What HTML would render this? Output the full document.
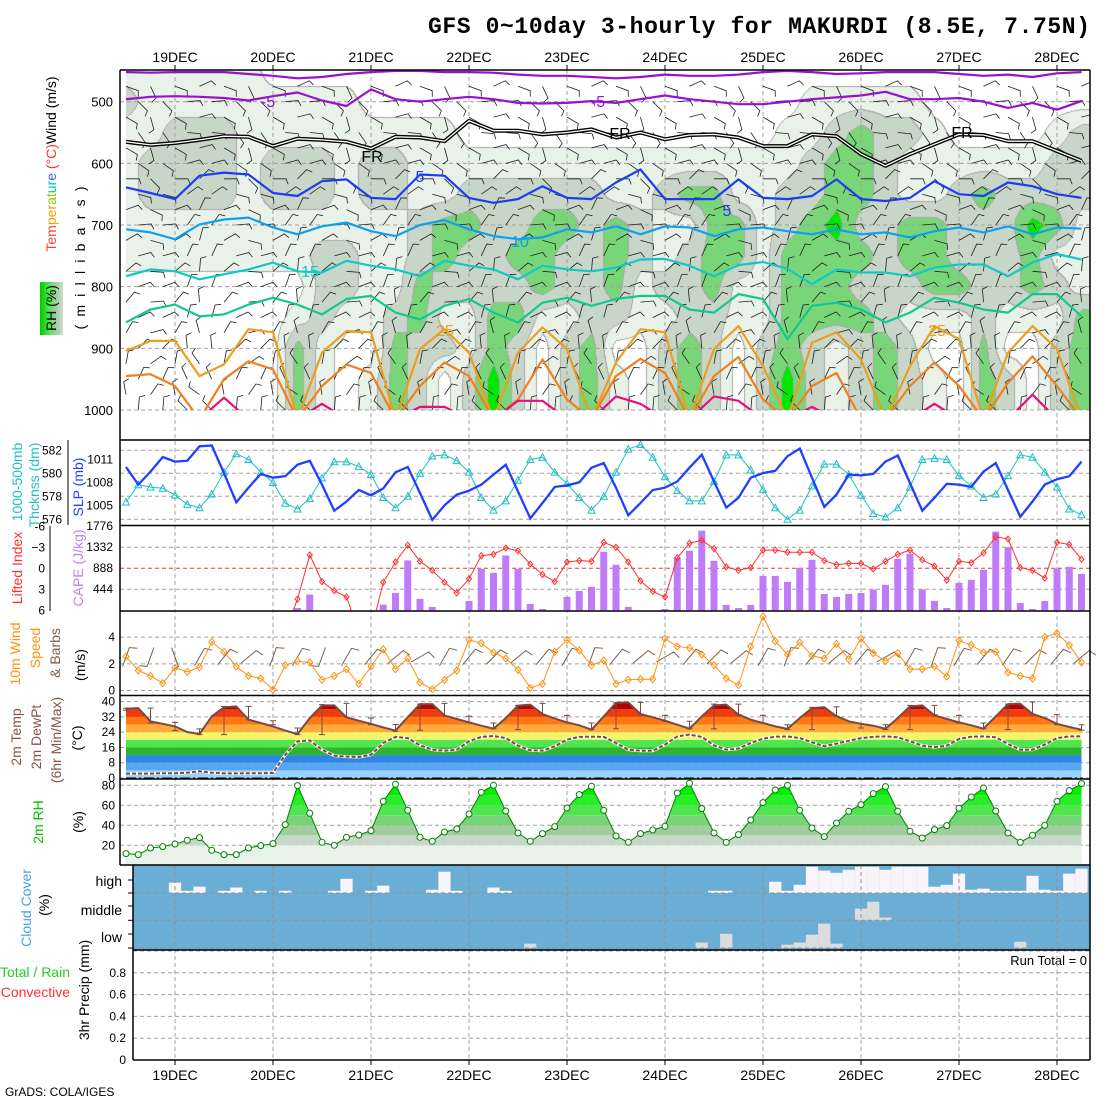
<!DOCTYPE html>
<html><head><meta charset="utf-8">
<style>
body{margin:0;background:#fff;width:1100px;height:1100px;overflow:hidden;position:relative;font-family:"Liberation Sans",sans-serif}
#rhc{position:absolute;left:126px;top:70px}
#chart{position:absolute;left:0;top:0}
</style></head>
<body>
<canvas id="rhc" width="964" height="340"></canvas>
<svg id="chart" width="1100" height="1100" xmlns="http://www.w3.org/2000/svg" font-family="Liberation Sans, sans-serif">
<defs>
<clipPath id="upClip"><rect x="120" y="70" width="970" height="368"/></clipPath>
<clipPath id="isoClip"><rect x="120" y="70" width="970" height="340"/></clipPath>
<clipPath id="liClip"><rect x="120" y="526" width="970" height="85"/></clipPath>
<clipPath id="cloudClip"><rect x="133" y="865" width="957" height="85"/></clipPath>
<linearGradient id="rhKey" x1="0" x2="1" y1="0" y2="0"><stop offset="0" stop-color="#00c800"/><stop offset="0.4" stop-color="#50e650"/><stop offset="0.7" stop-color="#a0cca0"/><stop offset="1" stop-color="#d0dcd0"/></linearGradient>
</defs>
<text x="428" y="33" font-family="Liberation Mono, monospace" font-size="23" font-weight="bold" textLength="662">GFS 0~10day 3-hourly for MAKURDI (8.5E, 7.75N)</text>

<g font-size="14">
<text transform="translate(51,164) rotate(-90)" text-anchor="middle" dy="0.35em"><tspan fill="#ff4028">Tem</tspan><tspan fill="#f0a000">per</tspan><tspan fill="#90c800">at</tspan><tspan fill="#00c0c0">ur</tspan><tspan fill="#4060ff">e</tspan><tspan fill="#ff3030"> (°C)</tspan><tspan fill="#000">Wind (m/s)</tspan></text>
<rect x="40" y="282" width="23" height="53" fill="url(#rhKey)"/>
<text transform="translate(51,308) rotate(-90)" text-anchor="middle" dy="0.35em">RH (%)</text>
<text transform="translate(80,258) rotate(-90)" text-anchor="middle" dy="0.35em" textLength="143">(millibars)</text>
</g>
<g font-size="14">
<text transform="translate(17,482) rotate(-90)" text-anchor="middle" dy="0.35em" fill="#20c0c0">1000-500mb</text>
<text transform="translate(34,485) rotate(-90)" text-anchor="middle" dy="0.35em" fill="#20c0c0">Thcknss (dm)</text>
<text transform="translate(78,487) rotate(-90)" text-anchor="middle" dy="0.35em" fill="#2040ff">SLP (mb)</text>
<text transform="translate(17,568) rotate(-90)" text-anchor="middle" dy="0.35em" fill="#ff3030">Lifted Index</text>
<text transform="translate(78,568) rotate(-90)" text-anchor="middle" dy="0.35em" fill="#c080f8">CAPE (J/kg)</text>
<text transform="translate(15,654) rotate(-90)" text-anchor="middle" dy="0.35em" fill="#ff9010">10m Wind</text>
<text transform="translate(35,648) rotate(-90)" text-anchor="middle" dy="0.35em" fill="#ff9010">Speed</text>
<text transform="translate(55,653) rotate(-90)" text-anchor="middle" dy="0.35em" fill="#7a6048">&amp; Barbs</text>
<text transform="translate(80,665) rotate(-90)" text-anchor="middle" dy="0.35em">(m/s)</text>
<text transform="translate(16,737) rotate(-90)" text-anchor="middle" dy="0.35em" fill="#8b5048">2m Temp</text>
<text transform="translate(36,737) rotate(-90)" text-anchor="middle" dy="0.35em" fill="#8b5048">2m DewPt</text>
<text transform="translate(56,740) rotate(-90)" text-anchor="middle" dy="0.35em" fill="#8b5048">(6hr Min/Max)</text>
<text transform="translate(77,738) rotate(-90)" text-anchor="middle" dy="0.35em">(°C)</text>
<text transform="translate(38,822) rotate(-90)" text-anchor="middle" dy="0.35em" fill="#00c000">2m RH</text>
<text transform="translate(78,822) rotate(-90)" text-anchor="middle" dy="0.35em">(%)</text>
<text transform="translate(26,908) rotate(-90)" text-anchor="middle" dy="0.35em" fill="#4aa0e0">Cloud Cover</text>
<text transform="translate(44,905) rotate(-90)" text-anchor="middle" dy="0.35em">(%)</text>
<text x="122" y="886" text-anchor="end">high</text>
<text x="122" y="915" text-anchor="end">middle</text>
<text x="122" y="942" text-anchor="end">low</text>
<text x="70" y="977" text-anchor="end" fill="#20d020">Total / Rain</text>
<text x="70" y="997" text-anchor="end" fill="#ff3030">Convective</text>
<text transform="translate(84,990) rotate(-90)" text-anchor="middle" dy="0.35em">3hr Precip (mm)</text>
<text x="1087" y="965" text-anchor="end" font-size="13">Run Total = 0</text>
<text x="5" y="1096" font-size="12">GrADS: COLA/IGES</text>
</g>
</svg>
<script>
// ---------- data ----------
const dayLabels=["19DEC","20DEC","21DEC","22DEC","23DEC","24DEC","25DEC","26DEC","27DEC","28DEC"];
const thick=[577.5,579.0,578.8,578.7,578.1,577.3,577.0,578.2,580.1,581.7,
581.2,580.1,579.2,577.4,576.9,577.8,579.6,581.0,581.0,580.6,
579.9,577.9,577.0,578.0,580.0,581.5,581.6,581.1,580.1,577.9,
576.8,577.6,579.4,581.2,581.4,580.1,579.1,577.9,576.8,578.0,
580.1,582.1,582.5,581.4,579.7,578.5,577.6,577.6,579.3,581.6,
581.6,580.3,578.6,577.0,576.0,576.8,578.9,580.8,580.8,579.9,
578.1,576.5,576.2,577.0,578.8,581.2,581.3,581.2,579.8,578.9,
577.9,578.2,579.8,581.6,581.4,580.1,578.8,576.9,576.4];
const slp=[1010.0,1007.7,1009.4,1011.3,1010.7,1010.8,1012.7,1012.8,1009.2,1005.4,
1007.3,1009.1,1008.6,1008.8,1010.3,1010.8,1007.7,1004.3,1005.5,1007.0,
1006.3,1007.2,1009.3,1010.0,1006.6,1003.1,1005.0,1006.4,1006.9,1007.7,
1009.0,1010.3,1006.8,1003.3,1005.3,1007.4,1007.6,1008.0,1009.9,1010.5,
1007.3,1003.7,1005.3,1007.0,1007.3,1008.1,1009.9,1011.6,1008.1,1004.7,
1006.0,1008.6,1009.2,1009.5,1011.4,1012.4,1008.6,1004.8,1006.4,1009.0,
1008.9,1009.1,1010.7,1011.5,1007.9,1004.3,1006.0,1007.8,1007.7,1007.4,
1009.4,1010.5,1007.0,1003.5,1005.5,1007.7,1008.4,1008.8,1010.7];
const liftedIndex=[9,9,9,9,9,9,9,9,9,9,
9,9,9,9,4.4,-1.9,1.9,3.2,4.1,9,
9,2.0,-0.9,-3.3,-1.0,0.3,2.0,3.5,1.5,-1.8,
-2.0,-2.9,-2.5,-0.6,0.9,1.9,-0.9,-1.1,-1.0,-3.7,
-3.0,-0.9,1.8,3.3,4.1,-1.5,-3.6,-4.0,-2.8,-0.2,
0.3,-0.1,-2.6,-2.6,-2.3,-2.3,-2.3,-1.1,-0.5,-0.7,
-0.7,0.1,-1.0,-2.0,-2.6,-1.2,-0.3,1.7,-1.0,-0.8,
-2.2,-4.5,-4.2,-0.1,0.3,1.4,-3.7,-3.4,-1.3];
const cape=[0,0,0,0,0,0,0,0,0,0,
0,0,0,0,49,331,0,0,0,0,
0,120,366,1050,240,70,0,0,197,874,
790,1156,874,134,28,0,282,409,494,1233,
959,70,0,0,28,1107,1255,1678,1043,113,
49,113,726,726,599,895,1064,345,282,345,
366,437,536,1086,1191,437,197,49,578,642,
853,1657,1332,155,28,197,881,917,768];
const windSpeed=[2.55,1.5,1.1,0.55,1.7,1.4,1.75,3.65,2.9,1.8,
1.1,0.9,0.05,1.9,2.2,2.1,0.8,1.1,1.6,0.5,
1.8,3.1,1.6,2.4,0.6,0.1,0.8,1.5,3.8,3.55,
2.85,2.4,1.55,0.2,0.5,2.9,3.8,3.0,1.9,2.25,
0.5,0.8,0.85,0.85,3.9,3.3,3.2,2.7,1.9,0.9,
0.4,3.3,5.55,3.7,2.7,3.6,2.6,2.4,3.5,2.35,
3.9,2.8,2.2,2.8,1.6,1.6,1.8,1.05,3.75,3.4,
2.85,2.9,1.35,1.1,0.9,4.0,4.3,3.4,2.1];
const sfcWindDir=[20,200,160,30,40,50,20,30,200,30,40,50,60,30,40,45,50,40,30,20,40,50,60,40,45,50,30,20,40,50,40,60,30,20,30,40,35,45,40,50];
const temp2m=[36.3,36.6,29.7,28.4,27.0,24.1,23.0,32.3,37.0,37.5,
30.5,28.8,27.0,24.8,23.0,31.4,38.0,38.0,31.8,30.0,
28.3,26.5,24.8,31.9,38.7,38.7,32.8,30.9,29.1,27.4,
25.8,31.4,37.9,38.4,33.5,31.1,29.1,27.6,25.3,32.3,
39.3,39.6,33.5,31.8,30.0,27.9,25.8,32.3,38.0,38.4,
33.2,30.5,28.8,27.0,25.7,31.4,36.6,37.0,32.3,29.7,
28.4,27.4,25.8,31.4,37.5,38.0,32.8,30.9,29.1,27.6,
25.8,32.3,38.7,38.9,33.5,31.4,28.4,26.7,25.3];
const dewpt2m=[2.3,2.3,2.3,2.5,2.5,2.8,3.5,2.8,2.4,2.4,
2.5,2.5,2.6,12.2,19.2,19.7,14.8,11.7,11.2,11.0,
12.2,18.3,21.5,20.9,17.1,14.8,14.3,14.8,19.2,21.5,
22.0,20.9,16.9,14.5,14.3,16.6,20.1,21.5,21.6,21.5,
18.3,14.8,14.3,14.3,17.5,21.8,22.7,21.5,17.1,14.8,
15.4,18.3,20.6,21.6,21.8,20.9,18.7,16.6,18.0,19.5,
20.9,21.5,21.8,21.3,19.2,16.9,16.2,16.9,20.4,21.6,
21.8,21.3,17.8,14.8,14.8,17.5,20.9,21.8,21.8];
const tMaxBar=[36.5,36.6,29.1,25.7,37.5,37.5,30.0,26.2,38.4,39.1,31.4,28.0,38.7,39.1,32.3,28.8,38.0,39.1,32.8,28.8,39.3,39.6,32.8,29.7,38.7,38.7,32.8,27.9,37.0,37.3,28.4,27.9,38.0,38.0,32.8,28.8,38.7,39.8,33.2,27.9];
const tMinBar=[35.5,28.8,24.8,22.7,22.7,30.5,27.9,22.7,22.7,31.8,27.9,24.4,25.0,32.3,29.1,25.8,25.3,33.2,29.1,25.3,25.8,33.2,29.7,25.8,25.7,33.2,28.8,25.3,25.3,32.3,26.2,25.3,25.3,33.2,28.8,25.8,25.3,33.2,27.9,25.0];
const rh2m=[11.7,10.7,17.3,18.7,21.3,25,27.7,15,10.7,10.7,
17.3,19.7,21.7,40.7,79.7,52,23,20,28,30.3,
34.7,64,81,55,28,24,33.3,36.3,51.3,73,
80,54.3,32.3,24,31.7,38.7,57.3,70.7,79,55,
29.3,23,31.7,35.3,39,72.3,82,56.7,32.3,23,
30.7,45.3,62.7,75.3,80,55,37.3,28.7,42.3,54,
60.7,71.7,78.7,54,34,27.3,35.7,39.7,57,68.3,
77.3,54.3,32.3,23,30,40,64,74.7,81.7];
const cloudHigh=[34,0,0,0,38,8,23,0,8,20,
0,8,0,8,0,0,0,8,52,0,
8,27,0,0,0,12,78,8,0,0,
20,8,0,0,0,0,0,0,0,0,
0,0,0,0,0,0,0,0,8,8,
0,0,0,41,8,30,96,82,74,85,
96,96,85,96,96,96,23,30,71,12,
16,8,8,8,63,12,8,71,89];
const cloudMid=[0,0,0,0,0,0,0,0,0,0,0,0,0,0,0,0,0,0,0,0,0,0,0,0,0,0,0,0,0,0,0,0,0,0,0,0,0,0,0,0,
0,0,0,0,0,0,0,0,0,0,0,0,0,0,0,0,0,0,0,0,43,68,10,0,0,0,0,0,0,0,0,0,0,0,0,0,0,0,0];
const cloudLow=[0,0,0,0,0,0,0,0,0,0,0,0,0,0,0,0,0,0,0,0,0,0,0,0,0,0,0,0,0,0,0,0,0,16,0,0,0,0,0,0,
0,0,0,0,0,0,0,20,0,52,0,0,0,0,12,20,49,89,16,0,0,0,0,0,0,0,0,0,0,0,0,0,0,23,0,0,0,0,0];
const precip3h=new Array(79).fill(0);
const pLevels=[450,500,550,600,650,700,750,800,850,900,950,1000];
const rhGrid=[
"1111110000 0000000000 0000000000 0000000000",
"2111111111 0000000000 0000000011 1110000000",
"1122211111 1111000000 0000000112 3221000012",
"1222212221 2211111111 1111111123 3211111122",
"1222212221 2211222222 1123311223 3211232222",
"1111111111 1123322332 3211331234 2233222431",
"1111111122 1123223322 3212331333 3233222311",
"0000000022 1132222322 3122311333 2223322321",
"0000000121 1231133112 2112211333 3211121113",
"0000000310 0322132023 0023202321 2320030023",
"0000000310 1320242023 1023202421 2321032023",
"0000000310 1320242023 1023202421 2321032023"];
const isoM10=[452,453,452,452,452,455,458,462,460,455,452,450,450,452,452,453,456,458,458,460,462,460,456,458,458,456,452,450,452,455,454,452,452,452,455,458,456,460,454,452];
const isoM5=[496,492,491,492,494,498,491,485,498,507,480,496,500,496,492,496,502,503,502,499,502,496,490,496,500,504,504,500,496,493,490,484,496,496,494,500,510,502,513,499];
const iso0=[565,570,567,562,556,557,572,560,562,565,576,557,558,564,531,547,547,553,550,545,558,550,561,554,553,558,572,572,553,556,585,604,585,569,553,554,564,564,580,596];
const iso5=[639,648,658,620,615,618,648,653,629,626,656,658,618,620,656,664,658,637,656,658,631,610,658,658,658,626,656,658,653,626,658,661,656,629,650,653,631,637,650,656];
const iso10=[707,712,723,699,691,688,704,715,702,696,710,718,700,692,707,718,723,720,707,712,702,715,702,704,718,707,704,710,715,707,715,712,720,710,704,712,702,715,704,706];
const iso15=[783,772,775,788,780,772,761,775,777,758,766,772,783,758,766,772,788,766,772,775,769,756,755,766,783,765,760,771,796,772,777,777,783,769,764,764,783,761,747,756];
const iso20=[858,837,829,848,845,829,818,829,845,820,815,842,853,831,820,842,858,826,818,831,820,815,815,837,842,812,820,885,831,826,837,858,842,818,826,837,842,812,812,848];
const iso25=[904,888,888,945,926,869,874,1015,907,872,874,1015,901,869,907,1015,907,866,901,1015,923,869,874,1015,901,864,929,1015,891,874,918,1015,929,864,885,1015,907,864,901,1015];
const iso30=[945,942,961,1015,950,921,934,1015,961,926,940,1015,961,923,945,1015,983,918,983,1015,945,917,940,1015,945,914,983,1015,961,940,1015,1015,961,923,961,1015,956,913,961,1015];
const iso35=[1015,1015,1015,1015,980,1015,1015,1015,990,1015,1015,1015,995,995,1015,1015,985,985,1015,1015,978,990,1015,1015,978,985,1015,1015,995,1015,1015,1015,1015,990,1015,1015,1015,975,1015,1015];
const barbLevels=[475,500,525,550,575,600,625,650,675,700,725,750,775,800,825,850,875,900,925,950,975,1000];
const barbLevelDir=[110,110,120,120,120,100,90,80,70,60,60,50,50,45,40,40,30,20,10,0,350,340];
const barbDayCycle=[0,25,45,25,0,-25,-45,-25];
const pTicks=[500,600,700,800,900,1000];
const thickTicks=[576,578,580,582];
const slpTicks=[1005,1008,1011];
const liTicks=[-6,-3,0,3,6];
const capeTicks=[444,888,1332,1776];
const windTicks=[0,2,4];
const tempTicks=[0,8,16,24,32,40];
const rhTicks=[20,40,60,80];
const precipTicks=[0,0.2,0.4,0.6,0.8];

// ---------- scales ----------
const svg=document.getElementById('chart');
const NS='http://www.w3.org/2000/svg';
function mk(tag,attrs,parent){const e=document.createElementNS(NS,tag);for(const k in attrs)e.setAttribute(k,attrs[k]);(parent||svg).appendChild(e);return e;}
const X=i=>126+i*12.25;
const XC=c=>126+c*24.5;
const Yp=p=>101.7+(p-500)*0.6166;
const Yt=v=>450.3+(582-v)*11.5;
const Ys=v=>459.3+(1011-v)*7.67;
const Yl=v=>568.3+v*7;
const Yc=v=>610.3-v*(84.3/1776);
const Yw=v=>690.5-v*13.33;
const Ytm=v=>778-v*1.91;
const Yr=v=>785.3+(80-v);
const Yq=v=>1060-v*109;
const GRID='#a0a0a0';

// ---------- upper RH shading (canvas) ----------
(function(){
  const cv=document.getElementById('rhc');const ctx=cv.getContext('2d');
  const W=964,H=340;const img=ctx.createImageData(W,H);
  const g=rhGrid.map(s=>s.replace(/ /g,'').split('').map(Number));
  const rowY=pLevels.map(p=>Yp(p)-70);
  const cols=[[255,255,255],[232,242,232],[200,214,200],[120,214,120],[0,232,0]];
  const cls=new Uint8Array(W*H);
  const nc=g[0].length;
  for(let py=0;py<H;py++){
    let k=0;while(k<rowY.length-2&&py>rowY[k+1])k++;
    let fy=(py-rowY[k])/(rowY[k+1]-rowY[k]);fy=Math.max(0,Math.min(1,fy));
    for(let px=0;px<W;px++){
      const fc=px/24.5;let c=Math.min(Math.floor(fc),nc-2);let fx=Math.min(1,fc-c);
      const v=(g[k][c]*(1-fx)+g[k][c+1]*fx)*(1-fy)+(g[k+1][c]*(1-fx)+g[k+1][c+1]*fx)*fy;
      cls[py*W+px]=v<0.5?0:v<1.5?1:v<2.5?2:v<3.5?3:4;
    }
  }
  for(let py=0;py<H;py++)for(let px=0;px<W;px++){
    const q=py*W+px;let col=cols[cls[q]];
    if((px<W-1&&cls[q]!==cls[q+1])||(py<H-1&&cls[q]!==cls[q+W]))col=[168,168,168];
    img.data[q*4]=col[0];img.data[q*4+1]=col[1];img.data[q*4+2]=col[2];img.data[q*4+3]=255;
  }
  ctx.putImageData(img,0,0);
})();

// ---------- grids ----------
const gGrid=mk('g',{stroke:GRID,'stroke-width':1,'stroke-dasharray':'4 3',fill:'none'});


dayLabels.forEach((d,k)=>{
  const x=X(4+8*k);
  const l1=mk('line',{x1:x,x2:x,y1:70,y2:865},gGrid);
  
  
  const l2=mk('line',{x1:x,x2:x,y1:865,y2:1060},gGrid);
  
  
});
function hgrid(y,x0,name,color){const l=mk('line',{x1:x0,x2:1090,y1:y,y2:y},gGrid);if(color)l.setAttribute('stroke',color);
  
  }
pTicks.forEach(p=>hgrid(Yp(p),120,'pressure-gridline'));
thickTicks.forEach(v=>hgrid(Yt(v),120,'thickness-gridline'));
[-3,3].forEach(v=>hgrid(Yl(v),120,'li-gridline'));
hgrid(Yl(0),120,'li-zero-line','#ff3030');
windTicks.forEach(v=>hgrid(Yw(v),120,'wind-gridline'));
precipTicks.concat([1.0]).forEach(v=>{if(v>0)hgrid(Yq(v),133,'precip-gridline');});

// ---------- day labels ----------
dayLabels.forEach((d,k)=>{
  const x=X(4+8*k);
  const t1=mk('text',{x:x,y:62,'text-anchor':'middle','font-size':14});t1.textContent=d;
  
  
  const t2=mk('text',{x:x,y:1080,'text-anchor':'middle','font-size':14});t2.textContent=d;
  
  
  const k1=mk('line',{x1:x,x2:x,y1:65,y2:70,stroke:'#000'});
  
  
  const k2=mk('line',{x1:x,x2:x,y1:1060,y2:1065,stroke:'#000'});
  
  
});

// ---------- upper panel ----------
const gUp=mk('g',{'clip-path':'url(#upClip)'});


let bd='';
barbLevels.forEach((p,k)=>{
  for(let i=(k%2);i<79;i+=2){
    const d=(barbLevelDir[k]+barbDayCycle[i%8])*Math.PI/180;
    const x=X(i),y=Yp(p),L=13;
    const ex=x+L*Math.sin(d),ey=y-L*Math.cos(d);
    const bx=ex+6*Math.sin(d+1.2),by=ey-6*Math.cos(d+1.2);
    bd+=`M${x.toFixed(1)} ${y.toFixed(1)}L${ex.toFixed(1)} ${ey.toFixed(1)}L${bx.toFixed(1)} ${by.toFixed(1)}`;
  }
});
const barbs=mk('path',{d:bd,stroke:'#202020','stroke-width':0.8,fill:'none'},gUp);


const gIso=mk('g',{'clip-path':'url(#isoClip)'});


function isoLine(arr,color,w,name){
  const pts=arr.map((p,c)=>XC(c).toFixed(1)+','+Yp(p).toFixed(1)).join(' ');
  const l=mk('polyline',{points:pts,fill:'none',stroke:color,'stroke-width':w,'stroke-linejoin':'round'},gIso);
  
  
  return pts;
}
isoLine(isoM10,'#9a10d0',2.2,'isotherm-minus10');
isoLine(isoM5,'#9a10d0',2.2,'isotherm-minus5');
const frPts=isoLine(iso0,'#000',4,'isotherm-freezing');
const frIn=mk('polyline',{points:frPts,fill:'none',stroke:'#fff','stroke-width':1.3},gIso);


isoLine(iso5,'#1e3cf0',2.2,'isotherm-5');
isoLine(iso10,'#10a0f0',2.2,'isotherm-10');
isoLine(iso15,'#10c8c8',2.2,'isotherm-15');
isoLine(iso20,'#10c890',2.2,'isotherm-20');
isoLine(iso25,'#e8a020',2.2,'isotherm-25');
isoLine(iso30,'#f08020',2.2,'isotherm-30');
isoLine(iso35,'#e8107a',2.2,'isotherm-35');
const isoLabels=[['-5',268,107,'#9a10d0'],['-5',598,107,'#9a10d0'],['FR',372,162,'#000'],['FR',620,139,'#000'],['FR',962,138,'#000'],['5',420,182,'#1e3cf0'],['5',727,216,'#1e3cf0'],['10',520,247,'#10a0f0'],['15',310,277,'#10c8c8'],['25',445,336,'#e8a020'],['25',937,336,'#e8a020']];
isoLabels.forEach(a=>{const t=mk('text',{x:a[1],y:a[2],'text-anchor':'middle','font-size':16,fill:a[3]},gIso);t.textContent=a[0];
  
  });
pTicks.forEach(p=>{const t=mk('text',{x:113,y:Yp(p)+5,'text-anchor':'end','font-size':13});t.textContent=p;
  
  });

// ---------- SLP / thickness ----------
const thkPts=thick.map((v,i)=>X(i).toFixed(1)+','+Yt(v).toFixed(1)).join(' ');
const thkL=mk('polyline',{points:thkPts,fill:'none',stroke:'#20c0c0','stroke-width':1});


thick.forEach((v,i)=>{const x=X(i),y=Yt(v);const m=mk('path',{d:`M${x-3.5} ${y+3}L${x} ${y-3.5}L${x+3.5} ${y+3}Z`,fill:'none',stroke:'#20c0c0','stroke-width':1});
  
  });
const slpL=mk('polyline',{points:slp.map((v,i)=>X(i).toFixed(1)+','+Ys(v).toFixed(1)).join(' '),fill:'none',stroke:'#2040ff','stroke-width':2.3});


thickTicks.forEach(v=>{const t=mk('text',{x:62,y:Yt(v)+4,'text-anchor':'end','font-size':12});t.textContent=v;
  
  });
slpTicks.forEach(v=>{const t=mk('text',{x:113,y:Ys(v)+4,'text-anchor':'end','font-size':12});t.textContent=v;
  
  });
const thkAx=mk('line',{x1:68,x2:68,y1:440,y2:525,stroke:'#000'});



// ---------- CAPE / LI ----------
cape.forEach((v,i)=>{if(v<=0)return;const r=mk('rect',{x:X(i)-3.5,y:Yc(v),width:7,height:610.3-Yc(v),fill:'#c07cf8'});
  
  });
const gLi=mk('g',{'clip-path':'url(#liClip)'});


const liL=mk('polyline',{points:liftedIndex.map((v,i)=>X(i).toFixed(1)+','+Yl(v).toFixed(1)).join(' '),fill:'none',stroke:'#ff3030','stroke-width':1},gLi);


liftedIndex.forEach((v,i)=>{if(v>6)return;const x=X(i),y=Yl(v);const m=mk('path',{d:`M${x} ${y-3}L${x+2.5} ${y}L${x} ${y+3}L${x-2.5} ${y}Z`,fill:'none',stroke:'#ff3030'},gLi);
  
  });
liTicks.forEach(v=>{const t=mk('text',{x:45,y:Yl(v)+4,'text-anchor':'end','font-size':12});t.textContent=v===-6?'-6':(v<0?'\u2212'+(-v):v);
  
  });
capeTicks.forEach(v=>{const t=mk('text',{x:113,y:Yc(v)+4,'text-anchor':'end','font-size':12});t.textContent=v;
  
  });
const liAx=mk('line',{x1:50,x2:50,y1:526,y2:611,stroke:'#000'});



// ---------- wind ----------
let sb='';
sfcWindDir.forEach((dd,j)=>{const d=dd*Math.PI/180;const x=X(2*j),y=657,L=20;
  const sx=x-L/2*Math.sin(d),sy=y+L/2*Math.cos(d),ex=x+L/2*Math.sin(d),ey=y-L/2*Math.cos(d);
  const bx=ex+8*Math.sin(d+1.3),by=ey-8*Math.cos(d+1.3);
  sb+=`M${sx.toFixed(1)} ${sy.toFixed(1)}L${ex.toFixed(1)} ${ey.toFixed(1)}L${bx.toFixed(1)} ${by.toFixed(1)}`;});
const sfcB=mk('path',{d:sb,stroke:'#7a6048','stroke-width':1,fill:'none'});


const wL=mk('polyline',{points:windSpeed.map((v,i)=>X(i).toFixed(1)+','+Yw(v).toFixed(1)).join(' '),fill:'none',stroke:'#ff9010','stroke-width':1});


windSpeed.forEach((v,i)=>{const x=X(i),y=Yw(v);const m=mk('path',{d:`M${x} ${y-3.5}L${x+3} ${y}L${x} ${y+3.5}L${x-3} ${y}Z`,fill:'none',stroke:'#ff9010'});
  
  });
windTicks.forEach(v=>{const t=mk('text',{x:115,y:Yw(v)+4,'text-anchor':'end','font-size':12});t.textContent=v;
  
  });

// ---------- temperature ----------
const tBands=[[-2,0,'#c8a0f0'],[0,4,'#96d2fa'],[4,8,'#5aa5f0'],[8,12,'#2d86e6'],[12,16,'#2db42d'],[16,20,'#50e650'],[20,24,'#f5f569'],[24,28,'#ffaa3c'],[28,32,'#ff7814'],[32,36,'#f03c0a'],[36,44,'#b40000']];
const tPoly=[[X(0),779]].concat(temp2m.map((v,i)=>[X(i),Ytm(v)])).concat([[X(78),779]]).map(p=>p[0].toFixed(1)+','+p[1].toFixed(1)).join(' ');
const tcp=mk('clipPath',{id:'tClip'},svg.querySelector('defs'));
mk('polygon',{points:tPoly},tcp);
const gT=mk('g',{'clip-path':'url(#tClip)'});


tBands.forEach(b=>{const r=mk('rect',{x:120,y:Math.max(Ytm(b[1]),696),width:970,height:Ytm(b[0])-Math.max(Ytm(b[1]),696),fill:b[2]},gT);
  
  });
tempTicks.forEach(v=>hgrid(Ytm(v),120,'temp-gridline'));
const zl=mk('line',{x1:126,x2:1083,y1:Ytm(0),y2:Ytm(0),stroke:'#000','stroke-dasharray':'10 3 2 3'});


tMaxBar.forEach((mx,j)=>{const x=X(2*j),y1=Ytm(mx),y2=Ytm(tMinBar[j]);
  const b=mk('path',{d:`M${x} ${y1}V${y2}M${x-3} ${y1}H${x+3}M${x-3} ${y2}H${x+3}`,stroke:'#7a4a42','stroke-width':1,fill:'none'});
  
  });
const tL=mk('polyline',{points:temp2m.map((v,i)=>X(i).toFixed(1)+','+Ytm(v).toFixed(1)).join(' '),fill:'none',stroke:'#7a4a42','stroke-width':2});


const dPts=dewpt2m.map((v,i)=>X(i).toFixed(1)+','+Ytm(v).toFixed(1)).join(' ');
const dW=mk('polyline',{points:dPts,fill:'none',stroke:'#fff','stroke-width':3});


const dL=mk('polyline',{points:dPts,fill:'none',stroke:'#7a4a42','stroke-width':2,'stroke-dasharray':'4 2'});


tempTicks.forEach(v=>{const t=mk('text',{x:115,y:Ytm(v)+4,'text-anchor':'end','font-size':12});t.textContent=v;
  
  });

// ---------- RH ----------
const rBands=[[0,20,'#e8f2e8'],[20,30,'#c8d8c8'],[30,40,'#a0cca0'],[40,50,'#78d478'],[50,60,'#50e650'],[60,70,'#28ee28'],[70,80,'#00f000'],[80,100,'#00c000']];
const rPoly=[[X(0),865]].concat(rh2m.map((v,i)=>[X(i),Yr(v)])).concat([[X(78),865]]).map(p=>p[0].toFixed(1)+','+p[1].toFixed(1)).join(' ');
const rcp=mk('clipPath',{id:'rClip'},svg.querySelector('defs'));
mk('polygon',{points:rPoly},rcp);
const gR=mk('g',{'clip-path':'url(#rClip)'});


rBands.forEach(b=>{const r=mk('rect',{x:120,y:Math.max(Yr(b[1]),780),width:970,height:Yr(b[0])-Math.max(Yr(b[1]),780),fill:b[2]},gR);
  
  });
rhTicks.forEach(v=>hgrid(Yr(v),120,'rh-gridline'));
const rL=mk('polyline',{points:rh2m.map((v,i)=>X(i).toFixed(1)+','+Yr(v).toFixed(1)).join(' '),fill:'none',stroke:'#008000','stroke-width':1});


rh2m.forEach((v,i)=>{const c=mk('circle',{cx:X(i),cy:Yr(v),r:3,fill:'#fff',stroke:'#008000'});
  
  });
rhTicks.forEach(v=>{const t=mk('text',{x:115,y:Yr(v)+4,'text-anchor':'end','font-size':12});t.textContent=v;
  
  });

// ---------- cloud ----------
const gC=mk('g',{'clip-path':'url(#cloudClip)'});


const cbg=mk('rect',{x:133,y:865.5,width:957,height:84.5,fill:'#6aaed6'},gC);


const layers=[[cloudHigh,893,'#f8f4fa','cloud-high-bar'],[cloudMid,920.3,'#dcdcdc','cloud-middle-bar'],[cloudLow,948,'#dcdcdc','cloud-low-bar']];
layers.forEach(L=>{L[0].forEach((v,i)=>{if(v<=0)return;const h=v*0.273;const r=mk('rect',{x:X(i)-6.125,y:L[1]-h,width:12.25,height:h,fill:L[2]},gC);
  
  });});
[893,920.3,948].forEach(y=>{const l=mk('line',{x1:133,x2:1090,y1:y,y2:y,stroke:'#909090','stroke-dasharray':'4 3'},gC);
  
  });
dayLabels.forEach((d,k)=>{const x=X(4+8*k);const l=mk('line',{x1:x,x2:x,y1:865,y2:950,stroke:'#909090','stroke-dasharray':'4 3'},gC);
  
  });
[880,893,906,920.3,934,948].forEach(y=>{const l=mk('line',{x1:128,x2:133,y1:y,y2:y,stroke:'#000'});
  
  });

// ---------- precip ----------
precip3h.forEach((v,i)=>{if(v<=0)return;const r=mk('rect',{x:X(i)-5,y:Yq(v),width:10,height:1060-Yq(v),fill:'#20d020'});
  
  });
precipTicks.forEach(v=>{const t=mk('text',{x:126,y:Yq(v)+4,'text-anchor':'end','font-size':12});t.textContent=v;
  
  });

// ---------- frames ----------
const gF=mk('g',{stroke:'#000',fill:'none','stroke-width':1.5});


[[120,70,1090,70],[120,440,1090,440],[120,525.5,1090,525.5],[120,611,1090,611],[120,695.5,1090,695.5],[120,779,1090,779],[120,865,1090,865],[133,950,1090,950],[133,1060,1090,1060],[120,70,120,865],[133,865,133,1060],[1090,70,1090,1060]].forEach(s=>{
  const l=mk('line',{x1:s[0],y1:s[1],x2:s[2],y2:s[3]},gF);
  
  });
</script>
</body></html>
